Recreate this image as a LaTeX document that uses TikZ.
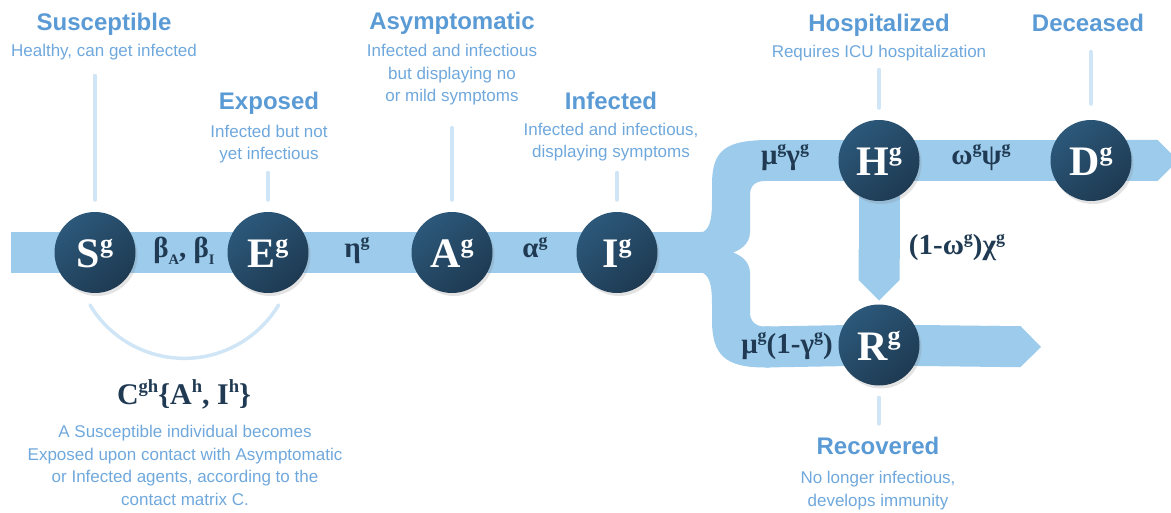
\documentclass[tikz,border=0pt]{standalone}
\usepackage{fontspec}
\setmainfont{Liberation Serif}
\setsansfont{Liberation Sans}
\usepackage{graphicx}
\usepackage{tikz}
\usetikzlibrary{arrows.meta, shadows, backgrounds}

\definecolor{navy}{HTML}{1E3A52}
\definecolor{navyhi}{HTML}{2C587A}
\definecolor{bandc}{HTML}{9DCBEB}
\definecolor{pinc}{HTML}{D0E6F7}
\definecolor{titlec}{HTML}{5B9BD5}
\definecolor{descc}{HTML}{6FA8DC}
\definecolor{ratec}{HTML}{1F3A52}

\newcommand{\gsup}[1]{\raisebox{.38em}{\scalebox{.62}{#1}}}
\newcommand{\gsub}[1]{\raisebox{-.22em}{\scalebox{.5}{#1}}}

\begin{document}
\begin{tikzpicture}[x=1pt, y=1pt,
  state/.style={circle, minimum size=81pt, inner sep=0pt,
    top color=navyhi, bottom color=navy, shading angle=40,
    drop shadow={shadow xshift=2pt, shadow yshift=-3pt, opacity=.22},
    text=white, text height=31pt, text depth=0pt,
    font=\bfseries\fontsize{42}{46}\selectfont},
  title/.style={anchor=base, text=titlec,
    font=\sffamily\bfseries\fontsize{24}{28}\selectfont},
  desc/.style={anchor=base, align=center, text=descc,
    font=\sffamily\fontsize{17}{22.5}\selectfont},
  rate/.style={anchor=base, text=ratec,
    font=\bfseries\fontsize{29}{32}\selectfont},
  band/.style={draw=bandc, line width=41pt},
  pin/.style={draw=pinc, line width=4pt, line cap=round}]

  \useasboundingbox (0,0) rectangle (1171,-513);

  % --- Compartments ---
  \node[state] (S) at (95,-252.5) {S\gsup{g}};
  \node[state] (E) at (268,-252.5) {E\gsup{g}};
  \node[state] (A) at (452,-252.5) {A\gsup{g}};
  \node[state] (I) at (617,-252.5) {I\gsup{g}};
  \node[state] (H) at (879,-160.5) {H\gsup{g}};
  \node[state] (D) at (1091,-160.5) {D\gsup{g}};
  \node[state] (R) at (879,-345) {R\gsup{g}};

  % --- Flow bands ---
  \begin{scope}[on background layer]
    \coordinate (start) at (11,-252.5);
    \draw[band] (start) -- (S.center) -- (I.center) -- (706,-252.5);
    \fill[bandc]
      (700,-232) -- (703,-232) .. controls (711,-228) and (712,-215) .. (712,-200)
      -- (712,-185) .. controls (712,-150) and (725,-140) .. (770,-140)
      -- (770,-181) -- (765,-181) .. controls (755,-181) and (750,-186) .. (750,-195)
      -- (750,-232) .. controls (750,-244) and (740,-250) .. (733,-252.5)
      .. controls (740,-255) and (750,-261) .. (750,-273)
      -- (750,-312) .. controls (750,-321) and (755,-326.5) .. (765,-326.5)
      -- (770,-326.5) -- (770,-367.5) -- (765,-367.5)
      .. controls (725,-367.5) and (712,-355) .. (712,-320)
      -- (712,-305) .. controls (712,-290) and (711,-277) .. (703,-273)
      -- (700,-273) -- cycle;
    \coordinate (Dend) at (1178,-160.5);
    \coordinate (Hend) at (879,-300.5);
    \coordinate (Rend) at (1041,-347);
    \draw[band, -{Triangle Cap[]}] (765,-160.5) -- (H.center) -- (D.center) -- (Dend);
    \draw[band, -{Triangle Cap[]}] (H.center) -- (Hend);
    \draw[band, -{Triangle Cap[]}] (765,-347) -- (R.center) -- (Rend);
  \end{scope}

  % --- Rates ---
  \node[rate] (bSE) at (184,-258) {β\gsub{A}, β\gsub{I}};
  \node[rate] (eEA) at (357,-258) {η\gsup{g}};
  \node[rate] (aAI) at (535,-258) {α\gsup{g}};
  \node[rate] (mIH) at (785,-165) {μ\gsup{g}γ\gsup{g}};
  \node[rate] (wHD) at (981,-165) {ω\gsup{g}ψ\gsup{g}};
  \node[rate] (xHR) at (957,-255) {(1-ω\gsup{g})χ\gsup{g}};
  \node[rate] (mIR) at (787,-353) {μ\gsup{g}(1-γ\gsup{g})};

  % --- Contact arc ---
  \draw[pin, line width=3.5pt] (90,-305) arc[start angle=211, end angle=329, radius=110];
  \node[rate, font=\bfseries\fontsize{30}{34}\selectfont] (cont) at (184,-404)
    {C\gsup{gh}\{A\gsup{h}, I\gsup{h}\}};
  \node[desc] (contD) at (185,-505) {A Susceptible individual becomes\\
    Exposed upon contact with Asymptomatic\\
    or Infected agents, according to the\\
    contact matrix C.};

  % --- Titles and descriptions ---
  \node[title] (susT) at (104,-31) {Susceptible};
  \node[desc] (susD) at (104,-57) {Healthy, can get infected};
  \node[title] (expT) at (269,-110) {Exposed};
  \node[desc] (expD) at (269,-160) {Infected but not\\yet infectious};
  \node[title] (asyT) at (452,-30) {Asymptomatic};
  \node[desc] (asyD) at (452,-102) {Infected and infectious\\but displaying no\\or mild symptoms};
  \node[title] (infT) at (611,-110) {Infected};
  \node[desc] (infD) at (611,-158) {Infected and infectious,\\displaying symptoms};
  \node[title] (hosT) at (879,-32) {Hospitalized};
  \node[desc] (hosD) at (879,-58) {Requires ICU hospitalization};
  \node[title] (decT) at (1088,-32) {Deceased};
  \node[title] (recT) at (878,-454) {Recovered};
  \node[desc] (recD) at (878,-506) {No longer infectious,\\develops immunity};

  % --- Pins ---
  \draw[pin] ([yshift=12pt]S.north) -- ++(0,124);
  \draw[pin] ([yshift=12pt]E.north) -- ++(0,27);
  \draw[pin] ([yshift=12pt]A.north) -- ++(0,72);
  \draw[pin] ([yshift=12pt]I.north) -- ++(0,27);
  \draw[pin] ([yshift=12pt]H.north) -- ++(0,38);
  \draw[pin] ([yshift=16pt]D.north) -- ++(0,52);
  \draw[pin] ([yshift=-12pt]R.south) -- ++(0,-26);

\end{tikzpicture}
\end{document}
